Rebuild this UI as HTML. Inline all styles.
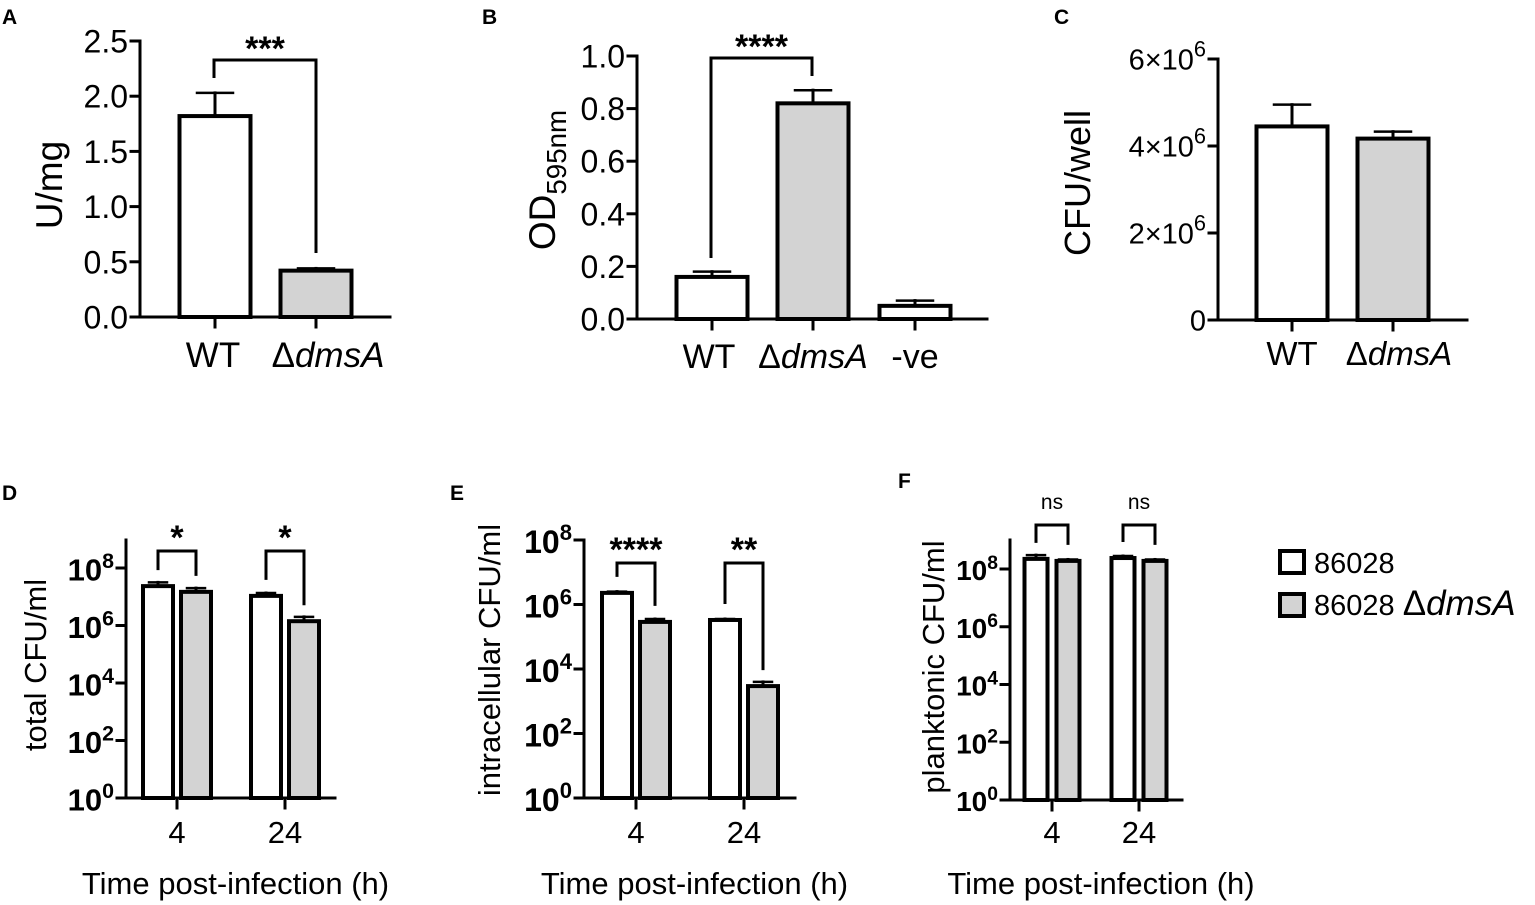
<!DOCTYPE html>
<html><head><meta charset="utf-8"><style>
html,body{margin:0;padding:0;background:#fff;}
svg{display:block;font-family:"Liberation Sans",Arial,sans-serif;}
</style></head><body>
<svg id="fig" width="1535" height="905" viewBox="0 0 1535 905" xmlns="http://www.w3.org/2000/svg">
<g font-weight="bold" font-size="21">
<text x="2" y="24">A</text>
<text x="482" y="24">B</text>
<text x="1054" y="24">C</text>
<text x="2" y="500">D</text>
<text x="450" y="500">E</text>
<text x="898" y="488">F</text>
</g>
<g>
<rect x="1280" y="551" width="24" height="22" fill="#fff" stroke="#000" stroke-width="4"/>
<text x="1314" y="573" font-size="29">86028</text>
<rect x="1280" y="594" width="24" height="22" fill="#d3d3d3" stroke="#000" stroke-width="4"/>
<text x="1314" y="615" font-size="29">86028 <tspan font-size="35">Δ</tspan><tspan font-style="italic" font-size="35">dmsA</tspan></text>
</g>
</svg>
<script>
// Panel A
const aCats = ["WT", "ΔdmsA"];
const aVals = [1.82, 0.42];
const aErr = [0.21, 0.02];
const aTicks = [0, 0.5, 1.0, 1.5, 2.0, 2.5];
// Panel B
const bCats = ["WT", "ΔdmsA", "-ve"];
const bVals = [0.16, 0.82, 0.05];
const bErr = [0.02, 0.05, 0.02];
const bTicks = [0, 0.2, 0.4, 0.6, 0.8, 1.0];
// Panel C
const cCats = ["WT", "ΔdmsA"];
const cVals = [4.45e6, 4.17e6];
const cErr = [0.5e6, 0.16e6];
const cTicks = [0, 2e6, 4e6, 6e6];
// Panels D/E/F (log10 values)
const timeCats = ["4", "24"];
const logTicks = [0, 2, 4, 6, 8];
const dWT = [7.37, 7.03];
const dWTErr = [0.13, 0.1];
const dMut = [7.17, 6.15];
const dMutErr = [0.13, 0.15];
const eWT = [6.36, 5.52];
const eWTErr = [0.04, 0.03];
const eMut = [5.46, 3.47];
const eMutErr = [0.09, 0.13];
const fWT = [8.35, 8.38];
const fWTErr = [0.13, 0.07];
const fMut = [8.28, 8.28];
const fMutErr = [0.05, 0.05];

const svg = document.getElementById('fig');
const NS = 'http://www.w3.org/2000/svg';
function mk(tag, attrs, parent) {
  const el = document.createElementNS(NS, tag);
  for (const k in attrs) el.setAttribute(k, attrs[k]);
  (parent || svg).appendChild(el);
  return el;
}
function line(g, x1, y1, x2, y2, w) {
  return mk('line', {x1, y1, x2, y2, stroke: '#000', 'stroke-width': w || 3, 'stroke-linecap': 'square'}, g);
}
function catLabel(g, x, y, txt, size) {
  const t = mk('text', {x, y, 'text-anchor': 'middle', 'font-size': size}, g);
  if (txt.startsWith('Δ')) {
    const s1 = mk('tspan', {}, t); s1.textContent = 'Δ';
    const s2 = mk('tspan', {'font-style': 'italic'}, t); s2.textContent = txt.slice(1);
  } else t.textContent = txt;
  return t;
}
function bracket(g, x1, y1, x2, y2, top, label, size, ly) {
  const p = mk('path', {d: `M${x1},${y1} L${x1},${top} L${x2},${top} L${x2},${y2}`, fill: 'none', stroke: '#000', 'stroke-width': 3}, g);
  
  
  const t = mk('text', {x: (x1 + x2) / 2, y: ly, 'text-anchor': 'middle', 'font-size': size, 'font-weight': label === 'ns' ? 'normal' : 'bold'}, g);
  t.textContent = label;
  
  
}

function linPanel(name, o) {
  const g = mk('g', {});
  
  
  const y = v => o.y0 - (v - o.vmin) / (o.vmax - o.vmin) * (o.y0 - o.y1);
  line(g, o.ax, o.y1, o.ax, o.y0);
  line(g, o.ax - 8, o.y0, o.xend, o.y0);
  o.ticks.forEach((tv, i) => {
    line(g, o.ax - 9, y(tv), o.ax, y(tv));
    const t = mk('text', {x: o.ax - 12, y: y(tv) + o.fs * 0.36, 'text-anchor': 'end', 'font-size': o.fs}, g);
    
    
    if (o.sci) {
      if (tv === 0) t.textContent = '0';
      else {
        const s1 = mk('tspan', {}, t); s1.textContent = (tv / 1e6) + '×10';
        const s2 = mk('tspan', {dy: -13, 'font-size': o.fs * 0.75}, t); s2.textContent = '6';
      }
    } else t.textContent = tv.toFixed(1);
  });
  o.cats.forEach((c, i) => {
    const cx = o.cx[i];
    const top = y(o.vals[i]);
    const et = y(o.vals[i] + o.err[i]);
    line(g, cx, et, cx, top);
    line(g, cx - o.capw, et, cx + o.capw, et, 2.5);
    const r = mk('rect', {x: cx - o.bw / 2, y: top, width: o.bw, height: o.y0 - top, fill: o.fills[i], stroke: '#000', 'stroke-width': 4}, g);
    
    
    line(g, cx, o.y0, cx, o.y0 + 10);
    const l = catLabel(g, cx + (o.loff ? o.loff[i] : 0), o.ly, c, o.cfs);
    
    
  });
  const tt = mk('text', {transform: `translate(${o.tx},${o.ty}) rotate(-90)`, 'text-anchor': 'middle', 'font-size': o.tfs}, g);
  
  
  if (o.titleSub) {
    const s1 = mk('tspan', {}, tt); s1.textContent = o.title;
    const s2 = mk('tspan', {dy: 11, 'font-size': o.tfs * 0.75}, tt); s2.textContent = o.titleSub;
  } else tt.textContent = o.title;
  return {g, y};
}

const A = linPanel('panel-a', {ax: 140, y0: 317, y1: 41, vmin: 0, vmax: 2.5, xend: 390, ticks: aTicks, fs: 32, cats: aCats, vals: aVals, err: aErr,
  cx: [215, 316], bw: 71, capw: 18, fills: ['#fff', '#d3d3d3'], ly: 367, cfs: 35, loff: [-2, 12], tx: 62, ty: 185, tfs: 37, title: 'U/mg'});
bracket(A.g, 214, 78, 316, 253, 60, '***', 34, 60);

const B = linPanel('panel-b', {ax: 637, y0: 319, y1: 56, vmin: 0, vmax: 1.0, xend: 987, ticks: bTicks, fs: 32, cats: bCats, vals: bVals, err: bErr,
  cx: [712, 813, 915], bw: 71, capw: 18, fills: ['#fff', '#d3d3d3', '#fff'], ly: 368, cfs: 34, loff: [-3, 0, 0], tx: 555, ty: 180, tfs: 37, title: 'OD', titleSub: '595nm'});
bracket(B.g, 711, 258, 812, 76, 58, '****', 34, 58);

linPanel('panel-c', {ax: 1218, y0: 320, y1: 59, vmin: 0, vmax: 6e6, xend: 1467, ticks: cTicks, fs: 29, sci: true, cats: cCats, vals: cVals, err: cErr,
  cx: [1292, 1393], bw: 71, capw: 18, fills: ['#fff', '#d3d3d3'], ly: 365, cfs: 33, loff: [0, 6], tx: 1090, ty: 183, tfs: 36, title: 'CFU/well'});

function logPanel(name, o) {
  const g = mk('g', {});
  
  
  const y = v => o.y0 - v / 8 * (o.y0 - o.y8);
  line(g, o.ax, o.ytop, o.ax, o.y0);
  line(g, o.ax - 8, o.y0, o.xend, o.y0);
  logTicks.forEach(tv => {
    line(g, o.ax - 9, y(tv), o.ax, y(tv));
    const t = mk('text', {x: o.ax - 12, y: y(tv) + o.tfs * 0.4, 'text-anchor': 'end', 'font-size': o.tfs, 'font-weight': 'bold'}, g);
    
    
    const s1 = mk('tspan', {}, t); s1.textContent = '10';
    const s2 = mk('tspan', {dy: -o.tfs * 0.4, 'font-size': o.tfs * 0.69}, t); s2.textContent = String(tv);
  });
  timeCats.forEach((c, i) => {
    const series = [[o.wt, o.wtErr, '#fff', -1], [o.mut, o.mutErr, '#d3d3d3', 1]];
    series.forEach(([vals, errs, fill, side], j) => {
      const cx = o.cx[i] + side * o.off;
      const top = y(vals[i]);
      const et = y(vals[i] + errs[i]);
      line(g, cx, et, cx, top);
      line(g, cx - 9, et, cx + 9, et, 2.5);
      const r = mk('rect', {x: cx - o.bw / 2, y: top, width: o.bw, height: o.y0 - top, fill, stroke: '#000', 'stroke-width': 4}, g);
      
      
    });
    line(g, o.cx[i], o.y0, o.cx[i], o.y0 + 10);
    const t = mk('text', {x: o.cx[i], y: 843, 'text-anchor': 'middle', 'font-size': 31}, g);
    t.textContent = c;
    
    
    const bx1 = o.cx[i] - o.off, bx2 = o.cx[i] + o.off;
    bracket(g, bx1, Math.min(y(o.wt[i] + o.wtErr[i]) - 10, y(o.wt[i]) - 16), bx2, Math.min(y(o.mut[i] + o.mutErr[i]) - 10, y(o.mut[i]) - 16), o.btop, o.sig[i], o.sig[i] === 'ns' ? 21 : 34, o.sig[i] === 'ns' ? o.btop - 16 : o.btop - 2);
  });
  const xt = mk('text', {x: (o.ax + o.xend) / 2 + 5, y: 894, 'text-anchor': 'middle', 'font-size': 31}, g);
  xt.textContent = 'Time post-infection (h)';
  
  
  const tt = mk('text', {transform: `translate(${o.tx},${o.ty}) rotate(-90)`, 'text-anchor': 'middle', 'font-size': 31}, g);
  tt.textContent = o.title;
  
  
}

logPanel('panel-d', {ax: 126, ytop: 540, y0: 798, y8: 568, xend: 335, cx: [177, 285], off: 19, bw: 30, tfs: 31, wt: dWT, wtErr: dWTErr, mut: dMut, mutErr: dMutErr,
  btop: 551, sig: ['*', '*'], tx: 46, ty: 665, title: 'total CFU/ml'});
logPanel('panel-e', {ax: 584, ytop: 540, y0: 798, y8: 540, xend: 795, cx: [636, 744], off: 19, bw: 30, tfs: 32, wt: eWT, wtErr: eWTErr, mut: eMut, mutErr: eMutErr,
  btop: 563, sig: ['****', '**'], tx: 500, ty: 660, title: 'intracellular CFU/ml'});
logPanel('panel-f', {ax: 1010, ytop: 540, y0: 800, y8: 569, xend: 1182, cx: [1052, 1139], off: 16, bw: 23, tfs: 28, wt: fWT, wtErr: fWTErr, mut: fMut, mutErr: fMutErr,
  btop: 525, sig: ['ns', 'ns'], tx: 944, ty: 667, title: 'planktonic CFU/ml'});
</script>
</body></html>
